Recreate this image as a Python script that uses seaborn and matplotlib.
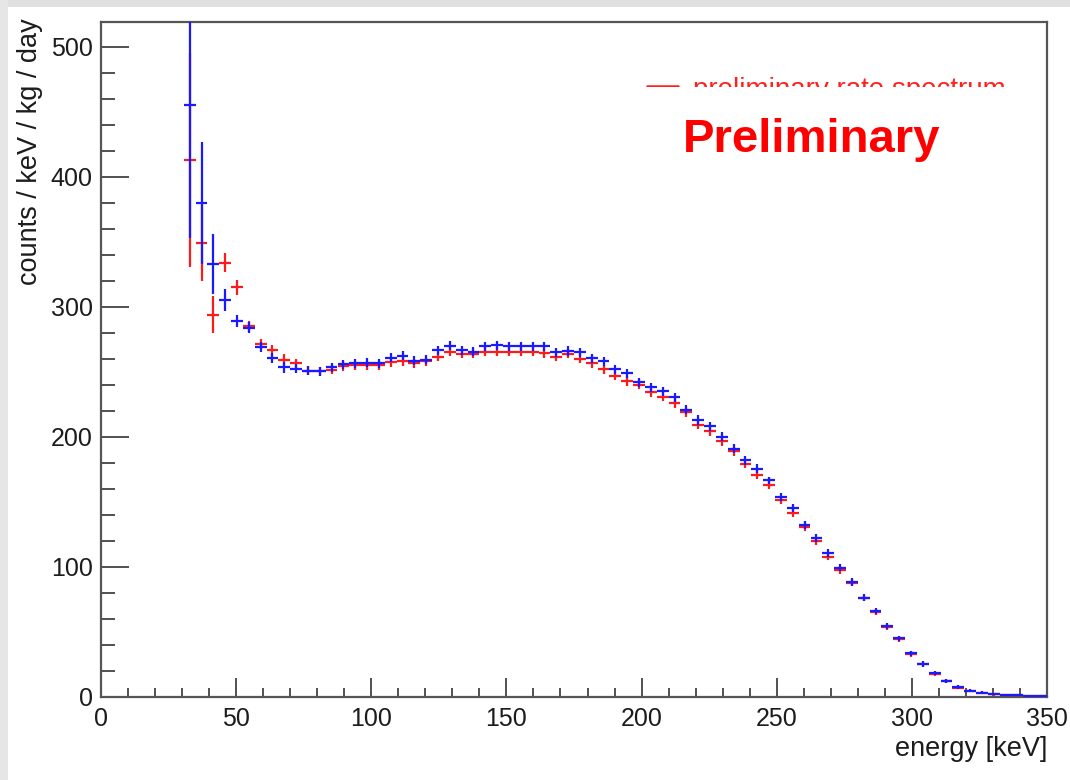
import numpy as np
import pandas as pd
import seaborn as sns
import matplotlib
matplotlib.use("Agg")
import matplotlib.pyplot as plt
from matplotlib.patches import Rectangle
from matplotlib.lines import Line2D
from matplotlib.ticker import MultipleLocator

# ---------------- data ----------------
energy_keV = [32.81, 37.19, 41.56, 45.94, 50.31, 54.69, 59.06, 63.44, 67.81, 72.19,
              76.56, 80.94, 85.31, 89.69, 94.06, 98.44, 102.81, 107.19, 111.56, 115.94,
              120.31, 124.69, 129.06, 133.44, 137.81, 142.19, 146.56, 150.94, 155.31, 159.69,
              164.06, 168.44, 172.81, 177.19, 181.56, 185.94, 190.31, 194.69, 199.06, 203.44,
              207.81, 212.19, 216.56, 220.94, 225.31, 229.69, 234.06, 238.44, 242.81, 247.19,
              251.56, 255.94, 260.31, 264.69, 269.06, 273.44, 277.81, 282.19, 286.56, 290.94,
              295.31, 299.69, 304.06, 308.44, 312.81, 317.19, 321.56, 325.94, 330.31, 334.69,
              339.06, 343.44, 347.81]
bin_half_width = 2.1875

blue_rate = [455, 380, 333, 305, 289, 284, 269, 260.5, 253.5, 252.5,
             251, 250.5, 253.5, 256, 256.5, 257, 256.5, 261, 262.5, 258.5,
             259.5, 266.5, 270, 266.5, 265.5, 269.5, 270.5, 269.5, 269.5, 269.5,
             269.5, 265, 266, 265, 260.5, 258, 252, 249, 242, 238,
             235, 230.5, 221, 213, 208, 200, 191, 182, 175.5, 166.5,
             154, 145.5, 132.5, 122.5, 110.5, 99.5, 88.5, 76.5, 66, 54.5,
             45, 33.5, 25.3, 18.2, 12.3, 7.6, 4.9, 3.3, 2.3, 1.5,
             1.3, 1.0, 0.8]
blue_err = [102, 47, 23, 8.5, 4.5, 4, 4, 4, 4, 3.5,
            3.5, 3.5, 3.5, 3.5, 3.5, 3.5, 3.5, 3.5, 3.5, 3.5,
            3.5, 3.5, 3.5, 3.5, 3.5, 3.5, 3.5, 3.5, 3.5, 3.5,
            3.5, 3.5, 3.5, 3.5, 3.5, 3.5, 3.5, 3.5, 3.5, 3.5,
            3.5, 3.5, 3.5, 3.5, 3.5, 3.5, 3.5, 3.5, 3.5, 3,
            3, 3, 3, 3, 3, 3, 3, 2.5, 2.5, 2.5,
            2, 2, 2, 1.5, 1.5, 1.5, 1, 1, 1, 1,
            0.8, 0.8, 0.6]

red_rate = [413, 349, 294, 334, 315, 285, 271.5, 266.5, 259.5, 256.5,
            251, 250.5, 251.7, 254.5, 255, 255, 255, 257.5, 258, 256.5,
            258, 261.5, 265.5, 264, 264, 265.5, 265.5, 265.5, 265.5, 265.5,
            264.5, 261.5, 264, 260, 256.5, 252, 247, 243, 240, 234.3,
            231, 226, 219, 209.5, 204.5, 196.5, 189, 179.5, 171, 163,
            151.5, 141.5, 130.5, 120, 108, 97.5, 88, 76, 65.5, 54,
            44.5, 33, 25, 18, 12, 7.3, 4.6, 3.0, 2.1, 1.4,
            1.2, 0.9, 0.7]
red_err = [82, 29, 14, 7.5, 6, 4, 4, 4, 4, 3.5,
           3.5, 3.5, 3.5, 3.5, 3.5, 3.5, 3.5, 3.5, 3.5, 3.5,
           3.5, 3.5, 3.5, 3.5, 3.5, 3.5, 3.5, 3.5, 3.5, 3.5,
           3.5, 3.5, 3.5, 3.5, 3.5, 3.5, 3.5, 3.5, 3.5, 3.5,
           3.5, 3.5, 3.5, 3.5, 3.5, 3.5, 3.5, 3.5, 3.5, 3,
           3, 3, 3, 3, 3, 3, 3, 2.5, 2.5, 2.5,
           2, 2, 2, 1.5, 1.5, 1.5, 1, 1, 1, 1,
           0.8, 0.8, 0.6]

x_ticks = [0, 50, 100, 150, 200, 250, 300, 350]
y_ticks = [0, 100, 200, 300, 400, 500]
x_label = "energy [keV]"
y_label = "counts / keV / kg / day"
legend_label = "preliminary rate spectrum"
stamp_text = "Preliminary"

df = pd.DataFrame({"energy": energy_keV,
                   "blue": blue_rate, "blue_err": blue_err,
                   "red": red_rate, "red_err": red_err})

# ---------------- style ----------------
sns.set_theme(style="white")
plt.rcParams["font.family"] = ["Liberation Sans", "DejaVu Sans"]

W, H = 1070, 780
fig = plt.figure(figsize=(W / 100, H / 100), dpi=100)
fig.patch.set_facecolor("white")

# screenshot frame (grey border at top and left)
fig.patches.append(Rectangle((0, 1 - 7 / H), 1, 7 / H, transform=fig.transFigure,
                             facecolor="#e0e0e0", edgecolor="none", zorder=0))
fig.patches.append(Rectangle((0, 0), 8 / W, 1, transform=fig.transFigure,
                             facecolor="#e6e6e6", edgecolor="none", zorder=0))

L, R, T, B = 101, 1047, 22, 697
ax = fig.add_axes([L / W, 1 - B / H, (R - L) / W, (B - T) / H])
ax.set_facecolor("white")

def ax_xy(px, py):
    return (px - L) / (R - L), (B - py) / (B - T)

# red series first, blue on top
ax.errorbar(df["energy"], df["red"], yerr=df["red_err"], xerr=bin_half_width,
            fmt="none", ecolor="#ff1a1a", elinewidth=1.6, capsize=0, zorder=3)
ax.errorbar(df["energy"], df["blue"], yerr=df["blue_err"], xerr=bin_half_width,
            fmt="none", ecolor="#1a1aff", elinewidth=1.6, capsize=0, zorder=4)

ax.set_xlim(0, 350)
ax.set_ylim(0, 519)
ax.set_xticks(x_ticks)
ax.set_yticks(y_ticks)
ax.xaxis.set_minor_locator(MultipleLocator(10))
ax.yaxis.set_minor_locator(MultipleLocator(20))

ax.tick_params(axis="both", which="both", direction="in", colors="#333333",
               labelcolor="#1c1c1c", labelsize=18, top=False, right=False,
               bottom=True, left=True)
ax.tick_params(axis="x", which="major", length=13.5, width=1.2, pad=7)
ax.tick_params(axis="x", which="minor", length=6.8, width=1.2)
ax.tick_params(axis="y", which="major", length=20, width=1.2, pad=6)
ax.tick_params(axis="y", which="minor", length=10, width=1.2)

for s in ax.spines.values():
    s.set_color("#555555")
    s.set_linewidth(1.6)
    s.set_visible(True)

ax.set_xlabel(x_label, fontsize=19.5, color="#1c1c1c", loc="right")
ax.xaxis.set_label_coords(1.0, -0.058)
ax.set_ylabel(y_label, fontsize=19.5, color="#1c1c1c", loc="top")
ax.yaxis.set_label_coords(-0.061, 1.006)

# legend entry (partially covered by the stamp box)
lx0, ly = ax_xy(647, 86)
lx1, _ = ax_xy(678, 86)
ax.add_line(Line2D([lx0, lx1], [ly, ly], transform=ax.transAxes, color="#ff2020",
                   linewidth=1.8, zorder=5, clip_on=False))
tx, ty = ax_xy(693, 97)
ax.text(tx, ty, legend_label, transform=ax.transAxes, color="#ff2020",
        fontsize=20, ha="left", va="baseline", zorder=5)
bx0, by1 = ax_xy(630, 87)
bx1, by0 = ax_xy(1030, 185)
ax.add_patch(Rectangle((bx0, by0), bx1 - bx0, by1 - by0, transform=ax.transAxes,
                       facecolor="white", edgecolor="none", zorder=6))
sx, sy = ax_xy(683, 152)
ax.text(sx, sy, stamp_text, transform=ax.transAxes, color="#ff0000",
        fontsize=34, fontweight="bold", ha="left", va="baseline", zorder=7)

fig.savefig("out.png", dpi=100, facecolor=fig.get_facecolor())
